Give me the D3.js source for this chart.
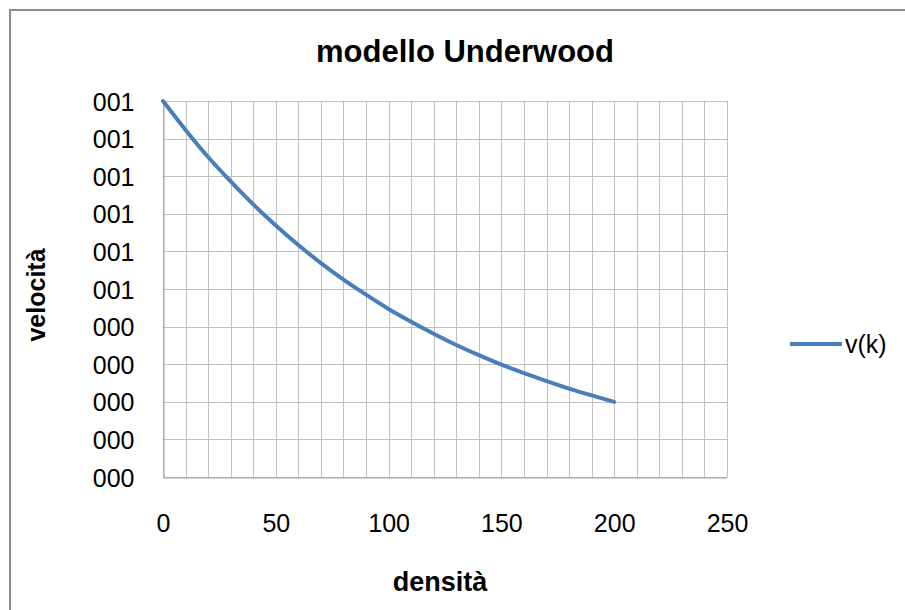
<!DOCTYPE html>
<html>
<head>
<meta charset="utf-8">
<script src="https://cdn.jsdelivr.net/npm/d3@7"></script>
<style>
  html, body { margin: 0; padding: 0; background: #fff; }
  svg { display: block; font-family: "Liberation Sans", Arial, sans-serif; }
</style>
</head>
<body>
<svg id="chart" width="905" height="610"></svg>
<script>
// Underwood model: speed v(k) against density k
const density = [0, 10, 20, 30, 40, 50, 60, 70, 80, 90, 100,
                 110, 120, 130, 140, 150, 160, 170, 180, 190, 200];
const speed = [1.000, 0.923, 0.851, 0.786, 0.725, 0.669, 0.617, 0.569, 0.525, 0.485, 0.447,
               0.413, 0.381, 0.351, 0.324, 0.299, 0.276, 0.255, 0.235, 0.217, 0.200];
const xTicks = [0, 50, 100, 150, 200, 250];
const yTicks = [0, 0.1, 0.2, 0.3, 0.4, 0.5, 0.6, 0.7, 0.8, 0.9, 1.0];
const yTickLabels = ["000", "000", "000", "000", "000", "001", "001", "001", "001", "001", "001"];
const seriesName = "v(k)";

const svg = d3.select("#chart");
const plot = { left: 163, top: 101, right: 727, bottom: 477 };

const x = d3.scaleLinear().domain([0, 250]).range([plot.left, plot.right]);
const y = d3.scaleLinear().domain([0, 1]).range([plot.bottom, plot.top]);

// chart frame (top and left edges visible)
svg.append("path")
  .attr("d", "M10,610 L10,10 L905,10")
  .attr("fill", "none")
  .attr("stroke", "#8c8c8c")
  .attr("stroke-width", 2);

// gridlines
const grid = svg.append("g").attr("stroke", "#c0c0c0").attr("stroke-width", 1);
grid.selectAll("line.v")
  .data(d3.range(0, 251, 10))
  .join("line")
  .attr("x1", d => Math.round(x(d)) + 0.5)
  .attr("x2", d => Math.round(x(d)) + 0.5)
  .attr("y1", plot.top)
  .attr("y2", plot.bottom);
grid.selectAll("line.h")
  .data(yTicks)
  .join("line")
  .attr("x1", plot.left)
  .attr("x2", plot.right)
  .attr("y1", d => Math.round(y(d)) + 0.5)
  .attr("y2", d => Math.round(y(d)) + 0.5);

// axes
const xAxis = d3.axisBottom(x).tickValues(xTicks).tickSize(0).tickPadding(0);
const gx = svg.append("g").attr("transform", `translate(0,${plot.bottom + 0.5})`).call(xAxis);
gx.select(".domain").attr("stroke", "#a0a0a0");
gx.selectAll("text")
  .attr("dy", 0)
  .attr("y", 54)
  .attr("font-size", 25)
  .attr("font-family", "Liberation Sans, Arial, sans-serif")
  .attr("fill", "#000");

const yAxis = d3.axisLeft(y).tickValues(yTicks).tickSize(0).tickPadding(0)
  .tickFormat((d, i) => yTickLabels[i]);
const gy = svg.append("g").attr("transform", `translate(${plot.left + 0.5},0)`).call(yAxis);
gy.select(".domain").attr("stroke", "#a0a0a0");
gy.selectAll("text")
  .attr("x", -29)
  .attr("dy", "0.36em")
  .attr("font-size", 25)
  .attr("font-family", "Liberation Sans, Arial, sans-serif")
  .attr("fill", "#000");

// series line
const line = d3.line().x((d, i) => x(density[i])).y(d => y(d)).curve(d3.curveMonotoneX);
svg.append("path")
  .datum(speed)
  .attr("d", line)
  .attr("fill", "none")
  .attr("stroke", "#4a7ebb")
  .attr("stroke-width", 4)
  .attr("stroke-linecap", "round");

// title and axis titles
svg.append("text")
  .attr("x", 465).attr("y", 62)
  .attr("text-anchor", "middle")
  .attr("font-size", 31).attr("font-weight", "bold")
  .text("modello Underwood");

svg.append("text")
  .attr("x", 440).attr("y", 591)
  .attr("text-anchor", "middle")
  .attr("font-size", 27).attr("font-weight", "bold")
  .text("densità");

svg.append("text")
  .attr("transform", "translate(45,295) rotate(-90)")
  .attr("text-anchor", "middle")
  .attr("font-size", 25).attr("font-weight", "bold")
  .text("velocità");

// legend
const legend = svg.append("g");
legend.append("line")
  .attr("x1", 790).attr("x2", 842)
  .attr("y1", 344).attr("y2", 344)
  .attr("stroke", "#4a7ebb").attr("stroke-width", 4);
legend.append("text")
  .attr("x", 845).attr("y", 353)
  .attr("font-size", 25)
  .text(seriesName);
</script>
</body>
</html>
